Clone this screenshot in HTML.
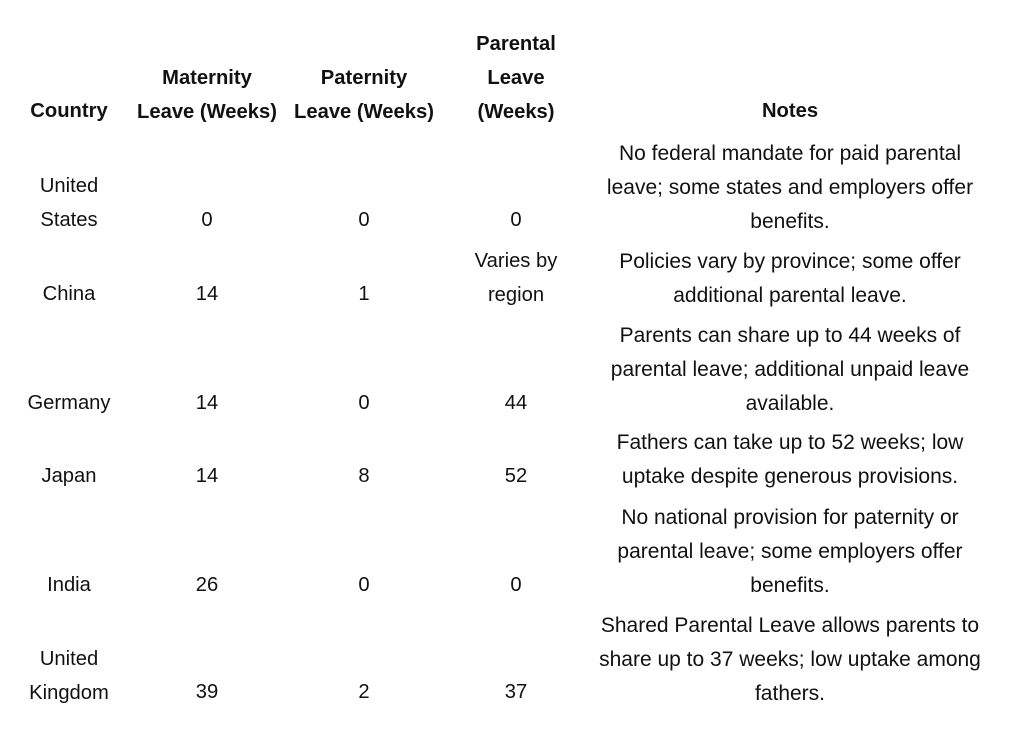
<!DOCTYPE html>
<html><head><meta charset="utf-8"><style>
html,body{margin:0;padding:0;background:#fff;width:1024px;height:736px;overflow:hidden}
body{position:relative;font-family:"Liberation Sans",Arial,sans-serif;font-size:20.2px;color:#111}
.wrap{position:absolute;left:0;top:2px;width:1024px;height:734px}
.c{position:absolute;text-align:center;line-height:33.8px;white-space:nowrap}
.h{font-weight:bold}
.c1{left:19px;width:100px}
.c2{left:124px;width:166px}
.c3{left:290px;width:148px}
.c4{left:438px;width:156px}
.c5{left:580px;width:420px;font-size:21px}
.c5.h{font-size:20.2px}
</style></head><body>
<div class="wrap">
<div class="c h c1" style="top:93px">Country</div>
<div class="c h c2" style="top:60px">Maternity<br>Leave (Weeks)</div>
<div class="c h c3" style="top:60px">Paternity<br>Leave (Weeks)</div>
<div class="c h c4" style="top:26px">Parental<br>Leave<br>(Weeks)</div>
<div class="c h c5" style="top:93px">Notes</div>

<div class="c c1" style="top:168px">United<br>States</div>
<div class="c c2" style="top:202px">0</div>
<div class="c c3" style="top:202px">0</div>
<div class="c c4" style="top:202px">0</div>
<div class="c c5" style="top:135px">No federal mandate for paid parental<br>leave; some states and employers offer<br>benefits.</div>

<div class="c c1" style="top:276px">China</div>
<div class="c c2" style="top:276px">14</div>
<div class="c c3" style="top:276px">1</div>
<div class="c c4" style="top:243px">Varies by<br>region</div>
<div class="c c5" style="top:243px">Policies vary by province; some offer<br>additional parental leave.</div>

<div class="c c1" style="top:385px">Germany</div>
<div class="c c2" style="top:385px">14</div>
<div class="c c3" style="top:385px">0</div>
<div class="c c4" style="top:385px">44</div>
<div class="c c5" style="top:317px">Parents can share up to 44 weeks of<br>parental leave; additional unpaid leave<br>available.</div>

<div class="c c1" style="top:458px">Japan</div>
<div class="c c2" style="top:458px">14</div>
<div class="c c3" style="top:458px">8</div>
<div class="c c4" style="top:458px">52</div>
<div class="c c5" style="top:424px">Fathers can take up to 52 weeks; low<br>uptake despite generous provisions.</div>

<div class="c c1" style="top:567px">India</div>
<div class="c c2" style="top:567px">26</div>
<div class="c c3" style="top:567px">0</div>
<div class="c c4" style="top:567px">0</div>
<div class="c c5" style="top:499px">No national provision for paternity or<br>parental leave; some employers offer<br>benefits.</div>

<div class="c c1" style="top:641px">United<br>Kingdom</div>
<div class="c c2" style="top:674px">39</div>
<div class="c c3" style="top:674px">2</div>
<div class="c c4" style="top:674px">37</div>
<div class="c c5" style="top:607px">Shared Parental Leave allows parents to<br>share up to 37 weeks; low uptake among<br>fathers.</div>
</div>
</body></html>
